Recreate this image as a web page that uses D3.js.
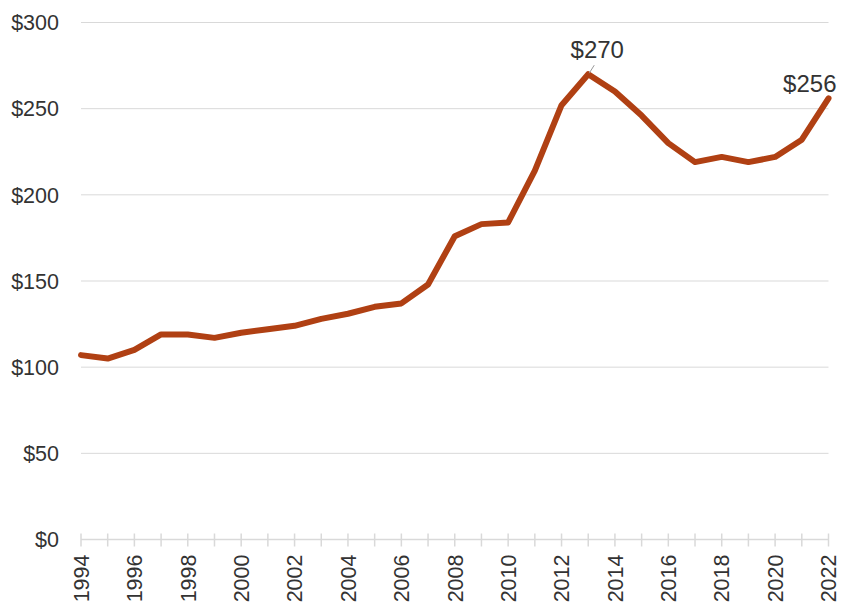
<!DOCTYPE html>
<html><head><meta charset="utf-8">
<script src="https://cdn.jsdelivr.net/npm/d3@7"></script>
<style>body{margin:0;background:#fff}svg{display:block;font-family:"Liberation Sans",Arial,sans-serif}</style>
</head><body><svg id="c" width="845" height="602"></svg>
<script>
const years = d3.range(1994, 2023);
const values = [107,105,110,119,119,117,120,122,124,128,131,135,137,148,176,183,184,214,252,270,260,246,230,219,222,219,222,232,256];
const yTicks = [0,50,100,150,200,250,300];
const xTicks = d3.range(1994, 2023, 2);
const annotations = [{year:2013, label:"$270"}, {year:2022, label:"$256"}];

const svg = d3.select("#c");
const x = d3.scaleLinear().domain([1994,2022]).range([81,828.5]);
const y = d3.scaleLinear().domain([0,300]).range([539.5,22.5]);

// gridlines
svg.append("g").selectAll("line").data(yTicks.filter(d=>d>0)).join("line")
  .attr("x1",81).attr("x2",828.5).attr("y1",d=>y(d)).attr("y2",d=>y(d))
  .attr("stroke","#d9d9d9").attr("stroke-width",1);

// y labels
svg.append("g").selectAll("text").data(yTicks).join("text")
  .attr("x",59).attr("y",d=>y(d)).attr("dy","0.36em").attr("text-anchor","end")
  .attr("font-size",21.5).attr("fill","#333").text(d=>"$"+d);

// x axis
const xg = svg.append("g").attr("transform","translate(0,539.5)");
xg.append("line").attr("x1",81).attr("x2",828.5).attr("stroke","#d9d9d9").attr("stroke-width",1.5);
xg.selectAll("line.t").data(years).join("line").attr("class","t")
  .attr("x1",d=>x(d)).attr("x2",d=>x(d)).attr("y1",-6).attr("y2",7)
  .attr("stroke","#d9d9d9").attr("stroke-width",1.5);
xg.selectAll("text").data(xTicks).join("text")
  .attr("transform",d=>`translate(${x(d)},15) rotate(-90)`)
  .attr("text-anchor","end").attr("dy","0.36em")
  .attr("font-size",21.5).attr("fill","#333").text(d=>d);

// line
const line = d3.line().x((d,i)=>x(years[i])).y(d=>y(d));
svg.append("path").datum(values).attr("d",line)
  .attr("fill","none").attr("stroke","#B04013").attr("stroke-width",6)
  .attr("stroke-linejoin","round").attr("stroke-linecap","round");

// annotations
const a0 = annotations[0], v0 = values[years.indexOf(a0.year)];
svg.append("line").attr("x1",x(a0.year)+1).attr("y1",y(v0)-1).attr("x2",x(a0.year)+6).attr("y2",y(v0)-9)
  .attr("stroke","#999").attr("stroke-width",1);
svg.append("text").attr("x",x(a0.year)+9).attr("y",y(v0)-16).attr("text-anchor","middle")
  .attr("font-size",24).attr("fill","#333").text(a0.label);
const a1 = annotations[1], v1 = values[years.indexOf(a1.year)];
svg.append("text").attr("x",x(a1.year)+8).attr("y",y(v1)-6).attr("text-anchor","end")
  .attr("font-size",24).attr("fill","#333").text(a1.label);
</script></body></html>
